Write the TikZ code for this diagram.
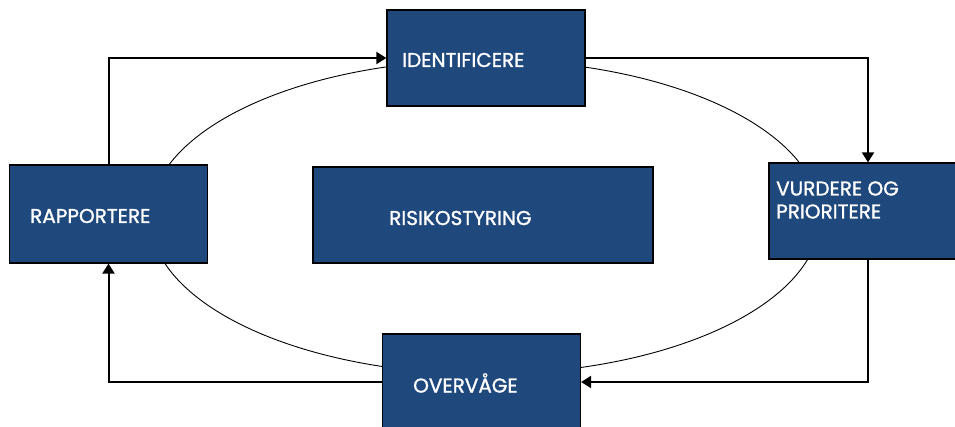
\documentclass[tikz,border=0pt]{standalone}
\usepackage{fontspec}
\setmainfont{Poppins}
\newfontfamily\lblfont{Poppins}[FakeBold=1.2]
\usetikzlibrary{arrows.meta}
\definecolor{boxblue}{HTML}{1F497D}

\begin{document}
\begin{tikzpicture}[x=1pt,y=-1pt,
		box/.style={draw=black,line width=1.2pt,fill=boxblue,minimum width=198pt,minimum height=96pt,inner sep=0pt},
		lbl/.style={text=white,font=\lblfont\fontsize{20}{23}\selectfont,anchor=west,align=left,inner sep=0pt},
		flow/.style={line width=2pt,->,>={Triangle[length=10pt,width=12pt]}}]
				\useasboundingbox (0,0) rectangle (955,427);
				\fill[white] (0,0) rectangle (955,427);
				\draw[line width=0.9pt] (485,217) ellipse (335pt and 157pt);
				
				\node[box] (ident) at (486,58) {};
				\node[box] (vurd) at (868,211) {};
				\node[box] (over) at (481.5,382) {};
				\node[box,minimum height=98pt] (rapp) at (108.5,214) {};
				\node[box,minimum width=340pt] (risk) at (483,215) {};
				
				\node[lbl] (identtxt) at (402,60) {IDENTIFICERE};
				\node[lbl] (vurdtxt) at (776,200) {VURDERE OG\\PRIORITERE};
				\node[lbl] (overtxt) at (413,383) {OVERVÅGE};
				\node[lbl] (rapptxt) at (30,216) {RAPPORTERE};
				\node[lbl] (risktxt) at (389,218) {RISIKOSTYRING};
				
				\draw[flow] (rapp.north) |- (ident.west);
				\draw[flow] (ident.east) -| (vurd.north);
				\draw[flow] (vurd.south) |- (over.east);
				\draw[flow] (over.west) -| (rapp.south);
\end{tikzpicture}
\end{document}
